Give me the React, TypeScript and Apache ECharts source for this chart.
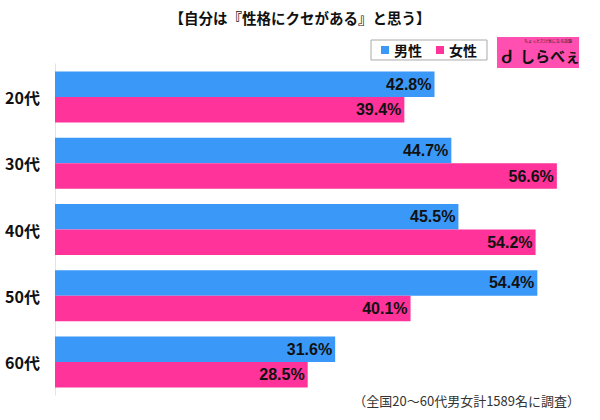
import React, { useEffect, useRef } from "react";
import * as echarts from "echarts";

const categories = ["20代", "30代", "40代", "50代", "60代"];
const male = [42.8, 44.7, 45.5, 54.4, 31.6];
const female = [39.4, 56.6, 54.2, 40.1, 28.5];
const seriesNames = ["男性", "女性"];
const titleText = "【自分は『性格にクセがある』と思う】";
const noteText = "（全国20～60代男女計1589名に調査）";

const BLUE = "#3a98f8";
const PINK = "#ff3399";
const FONT = "'Noto Sans CJK JP', 'Noto Sans', sans-serif";

export default function App() {
  const ref = useRef<HTMLDivElement>(null);
  useEffect(() => {
    const chart = echarts.init(ref.current!, undefined, { renderer: "svg" });
    const label = {
      show: true,
      position: "insideRight",
      distance: 3,
      color: "#111",
      fontWeight: "bold",
      fontSize: 16,
      fontFamily: "'Liberation Sans', Arial, sans-serif",
      formatter: (p: any) => p.value.toFixed(1) + "%",
    };
    chart.setOption({
      animation: false,
      textStyle: { fontFamily: FONT },
      title: {
        text: titleText,
        left: "center",
        top: 5,
        textStyle: { fontSize: 14.5, fontWeight: "bold", color: "#111", fontFamily: FONT },
      },
      legend: {
        data: seriesNames,
        left: 371,
        top: 40,
        icon: "rect",
        itemWidth: 8,
        itemHeight: 8,
        itemGap: 14,
        padding: [3, 10, 3, 10],
        backgroundColor: "#fff",
        borderColor: "#aaa",
        borderWidth: 1,
        borderRadius: 0,
        textStyle: { fontSize: 14, fontWeight: "bold", color: "#111", fontFamily: FONT },
      },
      grid: { left: 55, top: 64, width: 532, bottom: 25, containLabel: false },
      xAxis: {
        type: "value",
        min: 0,
        max: 60,
        show: false,
      },
      yAxis: {
        type: "category",
        data: categories,
        inverse: true,
        axisLine: { show: true, lineStyle: { color: "#dde4ec", width: 1 } },
        axisTick: { show: false },
        axisLabel: {
          fontSize: 16,
          fontWeight: "bold",
          color: "#111",
          margin: 15,
          fontFamily: FONT,
        },
      },
      series: [
        {
          name: seriesNames[0],
          type: "bar",
          data: male,
          itemStyle: { color: BLUE },
          barGap: "0%",
          barCategoryGap: "23%",
          label,
        },
        {
          name: seriesNames[1],
          type: "bar",
          data: female,
          itemStyle: { color: PINK },
          barGap: "0%",
          barCategoryGap: "23%",
          label,
        },
      ],
      graphic: [
        {
          type: "rect",
          shape: { x: 497, y: 37, width: 82, height: 31 },
          style: { fill: "#ff4fb0" },
        },
        {
          type: "text",
          style: {
            x: 548,
            y: 39,
            text: "ちょっとだけ気になる話題",
            fontSize: 4,
            fill: "#222",
            align: "center",
            fontFamily: FONT,
          },
        },
        {
          type: "text",
          style: {
            x: 502,
            y: 46,
            text: "Ꮷ",
            fontSize: 18,
            fontWeight: "bold",
            fill: "#111",
            fontFamily: FONT,
          },
        },
        {
          type: "text",
          style: {
            x: 520,
            y: 48,
            text: "しらべぇ",
            fontSize: 15,
            fontWeight: "bold",
            fill: "#111",
            fontFamily: FONT,
          },
        },
        {
          type: "text",
          style: {
            x: 580,
            y: 394,
            text: noteText,
            fontSize: 13,
            fill: "#333",
            align: "right",
            fontFamily: FONT,
          },
        },
      ],
    });
    return () => chart.dispose();
  }, []);
  return <div ref={ref} style={{ width: 600, height: 420, position: "absolute", left: 0, top: 0 }} />;
}
